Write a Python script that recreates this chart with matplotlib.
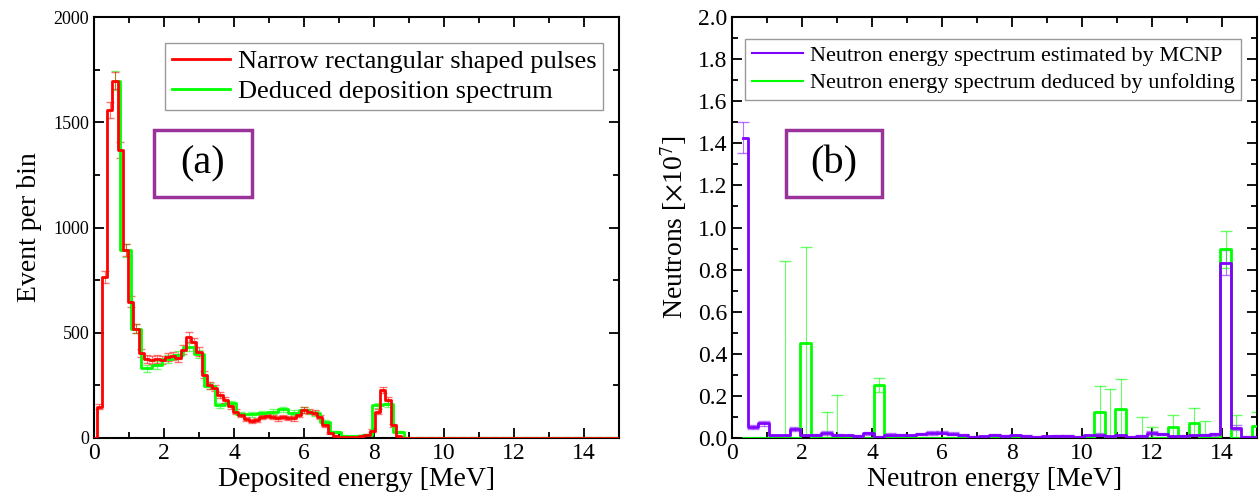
import numpy as np
import matplotlib
matplotlib.use('Agg')
import matplotlib.pyplot as plt
from matplotlib.patches import Rectangle

plt.rcParams['font.family'] = ['Liberation Serif', 'DejaVu Serif']
plt.rcParams['mathtext.fontset'] = 'stix'

# ---- panel (a): deposited energy spectra ----
# red: 0.15 MeV bins, centres 0.00 .. 15.00
dep_red_counts = [0, 149, 766, 1558, 1697, 1368, 893, 648, 520, 403,
                  375, 370, 375, 372, 385, 390, 380, 420, 480, 455,
                  410, 300, 250, 236, 205, 180, 150, 125, 110, 90,
                  80, 85, 100, 105, 98, 93, 98, 95, 93, 110,
                  133, 125, 120, 100, 60, 25, 10, 3, 3, 3,
                  5, 10, 14, 35, 125, 228, 180, 60, 8, 0, 0]
dep_red_err = [0, 12, 28, 40, 41, 37, 30, 25, 23, 20,
               19, 19, 19, 19, 20, 20, 20, 21, 22, 21,
               20, 17, 16, 15, 14, 13, 12, 11, 10, 9,
               9, 9, 10, 10, 10, 10, 10, 10, 10, 10,
               12, 11, 11, 10, 8, 5, 3, 2, 2, 2,
               2, 3, 4, 6, 11, 15, 13, 8, 3, 1, 1]
dep_red_counts = dep_red_counts + [0] * 40
dep_red_err = dep_red_err + [1] * 40
dep_red_energy = np.round(np.arange(len(dep_red_counts)) * 0.15, 3)

# green: 0.3 MeV bins, centres 0.6 .. 15.0
dep_green_counts = [1697, 891, 520, 331, 347, 374, 394, 432, 399, 247,
                    155, 165, 114, 112, 118, 125, 136, 121, 133, 117,
                    77, 30, 10, 10, 14, 155, 161, 28, 2]
dep_green_err = [45, 30, 23, 18, 19, 19, 20, 21, 20, 16,
                 12, 13, 11, 11, 11, 11, 12, 11, 12, 11,
                 9, 5, 3, 3, 4, 12, 13, 5, 1]
dep_green_counts = dep_green_counts + [2] * 20
dep_green_err = dep_green_err + [1] * 20
dep_green_energy = np.round(0.6 + np.arange(len(dep_green_counts)) * 0.3, 3)

# ---- panel (b): neutron energy spectra (x1e7), 0.3 MeV bins ----
neutron_energy = np.round(np.arange(1, 51) * 0.3, 3)
mcnp_flux = [1.427, 0.054, 0.070, 0.012, 0.012, 0.044, 0.012, 0.015, 0.024, 0.015,
             0.012, 0.010, 0.022, 0.006, 0.016, 0.014, 0.012, 0.018, 0.024, 0.026,
             0.020, 0.015, 0.005, 0.008, 0.014, 0.010, 0.012, 0.010, 0.006, 0.008,
             0.010, 0.009, 0.006, 0.012, 0.016, 0.008, 0.012, 0.006, 0.010, 0.024,
             0.018, 0.008, 0.010, 0.012, 0.014, 0.017, 0.833, 0.049, 0.007, 0.007]
mcnp_err = [0.075, 0.010, 0.012, 0.004, 0.004, 0.010, 0.004, 0.005, 0.008, 0.005,
            0.004, 0.004, 0.007, 0.003, 0.006, 0.005, 0.004, 0.006, 0.008, 0.008,
            0.007, 0.005, 0.003, 0.003, 0.005, 0.004, 0.004, 0.004, 0.003, 0.003,
            0.004, 0.004, 0.003, 0.004, 0.006, 0.003, 0.004, 0.003, 0.004, 0.008,
            0.006, 0.003, 0.004, 0.004, 0.005, 0.006, 0.060, 0.012, 0.003, 0.003]
unfold_flux = [0, 0, 0, 0, 0, 0, 0.450, 0, 0, 0,
               0, 0, 0, 0.252, 0, 0, 0, 0, 0, 0,
               0, 0, 0, 0, 0, 0, 0, 0, 0, 0,
               0, 0, 0, 0, 0.122, 0, 0.138, 0, 0, 0,
               0, 0.050, 0, 0.070, 0, 0, 0.896, 0, 0, 0.058]
unfold_err = [0, 0, 0, 0, 0.840, 0, 0.456, 0, 0.122, 0.205,
              0, 0, 0, 0.035, 0, 0, 0, 0, 0, 0,
              0, 0, 0, 0, 0, 0, 0, 0, 0, 0,
              0, 0, 0, 0, 0.125, 0.231, 0.141, 0, 0.098, 0.054,
              0, 0.057, 0, 0.071, 0.080, 0, 0.087, 0.110, 0, 0.067]

RED = '#ff0000'
GREEN = '#00ff00'
PURPLE = '#8000ff'
BOXC = '#993399'

fig = plt.figure(figsize=(12.6, 5.04), dpi=100)
ax1 = fig.add_axes([94 / 1260, 66 / 504, 525 / 1260, 421 / 504])
ax2 = fig.add_axes([732 / 1260, 66 / 504, 525 / 1260, 421 / 504])

# panel (a)
ax1.errorbar(dep_green_energy, dep_green_counts, yerr=dep_green_err, fmt='none',
             ecolor=GREEN, elinewidth=0.8, capsize=3, alpha=0.55, zorder=2)
ax1.errorbar(dep_red_energy, dep_red_counts, yerr=dep_red_err, fmt='none',
             ecolor=RED, elinewidth=0.8, capsize=3, alpha=0.55, zorder=2)
ax1.step(dep_green_energy, dep_green_counts, where='mid', color=GREEN, lw=2.0,
         zorder=3, label='Deduced deposition spectrum')
ax1.step(dep_red_energy, dep_red_counts, where='mid', color=RED, lw=2.0,
         zorder=4, label='Narrow rectangular shaped pulses')
ax1.set_xlim(0, 15)
ax1.set_ylim(0, 2000)
ax1.set_xticks(np.arange(0, 15, 2))
ax1.set_xticks(np.arange(0, 16, 1), minor=True)
ax1.set_yticks(np.arange(0, 2001, 500))
ax1.set_yticks(np.arange(0, 2001, 250), minor=True)
ax1.tick_params(axis='x', labelsize=17)
ax1.tick_params(axis='y', labelsize=13)
ax1.set_xlabel('Deposited energy [MeV]', fontsize=20, labelpad=2)
ax1.set_ylabel('Event per bin', fontsize=20, labelpad=8)
h, l = ax1.get_legend_handles_labels()
leg1 = ax1.legend(h[::-1], l[::-1], loc='upper right', bbox_to_anchor=(0.97, 0.938),
                  fontsize=19, frameon=True, fancybox=False, edgecolor='#808080',
                  borderpad=0.25, labelspacing=0.25, handlelength=2.2, handletextpad=0.3,
                  borderaxespad=0)
leg1.get_frame().set_linewidth(1.0)
ax1.add_patch(Rectangle((0.114, 0.572), 0.187, 0.16, transform=ax1.transAxes,
                        fill=False, edgecolor=BOXC, lw=2.5, zorder=5))
ax1.text(0.2075, 0.652, '(a)', transform=ax1.transAxes, fontsize=29,
         ha='center', va='center')

# panel (b)
m_err = np.array(mcnp_err) > 0
u_err = np.array(unfold_err) > 0
ax2.errorbar(neutron_energy[m_err], np.array(mcnp_flux)[m_err],
             yerr=np.array(mcnp_err)[m_err], fmt='none', ecolor=PURPLE,
             elinewidth=0.8, capsize=4, alpha=0.55, zorder=2)
ax2.errorbar(neutron_energy[u_err], np.array(unfold_flux)[u_err],
             yerr=np.array(unfold_err)[u_err], fmt='none', ecolor=GREEN,
             elinewidth=0.8, capsize=4, alpha=0.6, zorder=2)
ax2.step(neutron_energy, unfold_flux, where='mid', color=GREEN, lw=2.0, zorder=3,
         label='Neutron energy spectrum deduced by unfolding')
ax2.step(neutron_energy, mcnp_flux, where='mid', color=PURPLE, lw=2.0, zorder=4,
         label='Neutron energy spectrum estimated by MCNP')
ax2.set_xlim(0, 15)
ax2.set_ylim(0, 2.0)
ax2.set_xticks(np.arange(0, 15, 2))
ax2.set_xticks(np.arange(0, 16, 1), minor=True)
ax2.set_yticks(np.arange(0, 2.01, 0.2))
ax2.set_yticks(np.arange(0, 2.01, 0.1), minor=True)
ax2.yaxis.set_major_formatter(matplotlib.ticker.FormatStrFormatter('%.1f'))
ax2.tick_params(axis='both', labelsize=17)
ax2.set_xlabel('Neutron energy [MeV]', fontsize=20, labelpad=2)
ax2.set_ylabel(r'Neutrons [$\times$10$^7$]', fontsize=20, labelpad=6)
h, l = ax2.get_legend_handles_labels()
leg2 = ax2.legend(h[::-1], l[::-1], loc='upper left', bbox_to_anchor=(0.025, 0.948),
                  fontsize=16, frameon=True, fancybox=False, edgecolor='#808080',
                  borderpad=0.3, labelspacing=0.3, handlelength=2.3, handletextpad=0.3,
                  borderaxespad=0)
leg2.get_frame().set_linewidth(1.0)
for line in leg2.get_lines():
    line.set_linewidth(1.5)
ax2.add_patch(Rectangle((0.103, 0.572), 0.183, 0.16, transform=ax2.transAxes,
                        fill=False, edgecolor=BOXC, lw=2.5, zorder=5))
ax2.text(0.1945, 0.652, '(b)', transform=ax2.transAxes, fontsize=29,
         ha='center', va='center')

for ax in (ax1, ax2):
    ax.tick_params(which='both', direction='in', top=True, right=True, width=1.3)
    ax.tick_params(which='major', length=7)
    ax.tick_params(which='minor', length=4)
    for s in ax.spines.values():
        s.set_linewidth(1.5)

fig.savefig('out.png', dpi=100)
